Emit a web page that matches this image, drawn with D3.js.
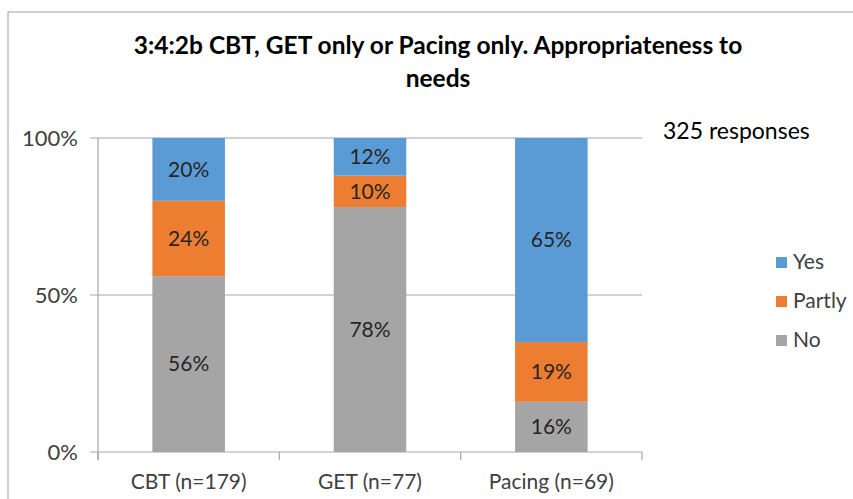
<!DOCTYPE html>
<html>
<head>
<meta charset="utf-8">
<script src="https://cdn.jsdelivr.net/npm/d3@7"></script>
<style>
  body { margin: 0; background: #fff; }
  svg text { font-family: Lato, "Open Sans", sans-serif; fill: #404040; }
</style>
</head>
<body>
<svg id="chart" width="853" height="499"></svg>
<script>
const categories = ["CBT (n=179)", "GET (n=77)", "Pacing (n=69)"];
const seriesNames = ["No", "Partly", "Yes"];
const noValues = [56, 78, 16];
const partlyValues = [24, 10, 19];
const yesValues = [20, 12, 65];
const yTicks = [0, 50, 100];
const colors = {No: "#a5a5a5", Partly: "#ed7d31", Yes: "#5b9bd5"};

const svg = d3.select("#chart");

// frame
svg.append("rect")
    .attr("x", 8).attr("y", 12)
    .attr("width", 900).attr("height", 600)
    .attr("fill", "none")
    .attr("stroke", "#a0a0a0");

const rows = categories.map((c, i) => ({cat: c, No: noValues[i], Partly: partlyValues[i], Yes: yesValues[i]}));
const stacked = d3.stack().keys(seriesNames)(rows);

const x = d3.scaleBand().domain(categories).range([98, 642]).paddingInner(0.6).paddingOuter(0.3);
const y = d3.scaleLinear().domain([0, 100]).range([452, 138]);

// gridlines
svg.append("g")
    .selectAll("line")
    .data(yTicks)
    .join("line")
    .attr("x1", 90).attr("x2", 642)
    .attr("y1", d => y(d)).attr("y2", d => y(d))
    .attr("stroke", "#a6a6a6")
    .attr("stroke-width", 1.2);

// y axis line
svg.append("line")
    .attr("x1", 98).attr("x2", 98)
    .attr("y1", y(100)).attr("y2", y(0) + 8)
    .attr("stroke", "#a6a6a6")
    .attr("stroke-width", 1.2);

// category ticks on the x axis
const bandStep = (642 - 98) / categories.length;
svg.append("g")
    .selectAll("line")
    .data(d3.range(categories.length + 1))
    .join("line")
    .attr("x1", i => 98 + i * bandStep).attr("x2", i => 98 + i * bandStep)
    .attr("y1", y(0)).attr("y2", y(0) + 8)
    .attr("stroke", "#a6a6a6")
    .attr("stroke-width", 1.2);

// y tick labels
svg.append("g")
    .selectAll("text")
    .data(yTicks)
    .join("text")
    .attr("x", 78)
    .attr("y", d => y(d))
    .attr("dy", "0.35em")
    .attr("text-anchor", "end")
    .style("font-size", "22px")
    .text(d => d + "%");

// category labels
svg.append("g")
    .selectAll("text")
    .data(categories)
    .join("text")
    .attr("x", d => x(d) + x.bandwidth() / 2)
    .attr("y", 482)
    .attr("dy", "0.35em")
    .attr("text-anchor", "middle")
    .style("font-size", "21px")
    .text(d => d);

// bars
const layers = svg.append("g")
    .selectAll("g")
    .data(stacked)
    .join("g")
    .attr("fill", d => colors[d.key]);

layers.selectAll("rect")
    .data(d => d)
    .join("rect")
    .attr("x", d => x(d.data.cat))
    .attr("y", d => y(d[1]))
    .attr("width", x.bandwidth())
    .attr("height", d => y(d[0]) - y(d[1]));

layers.selectAll("text")
    .data(d => d)
    .join("text")
    .attr("x", d => x(d.data.cat) + x.bandwidth() / 2)
    .attr("y", d => (y(d[0]) + y(d[1])) / 2)
    .attr("dy", "0.35em")
    .attr("text-anchor", "middle")
    .style("font-size", "21px")
    .style("fill", "#262626")
    .text(d => (d[1] - d[0]) + "%");

// title
svg.append("text")
    .attr("x", 438).attr("y", 45)
    .attr("dy", "0.35em")
    .attr("text-anchor", "middle")
    .style("font-size", "24.5px")
    .style("font-weight", "bold")
    .style("fill", "#000")
    .text("3:4:2b CBT, GET only or Pacing only. Appropriateness to");
svg.append("text")
    .attr("x", 438).attr("y", 78)
    .attr("dy", "0.35em")
    .attr("text-anchor", "middle")
    .style("font-size", "24.5px")
    .style("font-weight", "bold")
    .style("fill", "#000")
    .text("needs");

svg.append("text")
    .attr("x", 663).attr("y", 131)
    .attr("dy", "0.35em")
    .style("font-size", "23px")
    .style("fill", "#000")
    .text("325 responses");

// legend
const legendItems = ["Yes", "Partly", "No"];
const legend = svg.append("g")
    .selectAll("g")
    .data(legendItems)
    .join("g")
    .attr("transform", (d, i) => `translate(776, ${262 + i * 39})`);
legend.append("rect")
    .attr("x", 0).attr("y", -5)
    .attr("width", 11).attr("height", 11)
    .attr("fill", d => colors[d]);
legend.append("text")
    .attr("x", 17).attr("y", 0)
    .attr("dy", "0.35em")
    .style("font-size", "21px")
    .text(d => d);
</script>
</body>
</html>
